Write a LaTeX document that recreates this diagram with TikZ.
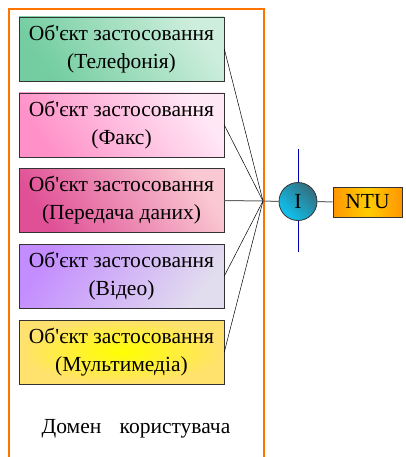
\documentclass[tikz,border=0pt]{standalone}
\usepackage{fontspec}
\setmainfont{Liberation Serif}[Ligatures=TeXOff]
\begin{document}
\begin{tikzpicture}[x=1pt,y=-1pt,
  objbox/.style={draw=black!80, line width=0.6pt, minimum width=205pt, minimum height=64pt,
    align=center, inner sep=0pt, font=\fontsize{21.5}{28}\selectfont},
  link/.style={line width=0.5pt, black},
  glink/.style={line width=1pt, black!60}]
\useasboundingbox (0,0) rectangle (406,457);
\draw[orange!90!red, line width=2pt] (9,457) -- (9,9) -- (264,9) -- (264,457);
\node[objbox, left color={rgb,255:red,115;green,205;blue,160}, right color={rgb,255:red,205;green,238;blue,220}, shading angle=125] (b1) at (121.5,49) {Об'єкт застосовання\\(Телефонія)};
\node[objbox, left color={rgb,255:red,255;green,145;blue,200}, right color={rgb,255:red,255;green,232;blue,246}, shading angle=125] (b2) at (121.5,125) {Об'єкт застосовання\\(Факс)};
\node[objbox, left color={rgb,255:red,224;green,80;blue,150}, right color={rgb,255:red,250;green,200;blue,210}, shading angle=125] (b3) at (121.5,200.5) {Об'єкт застосовання\\(Передача даних)};
\node[objbox, left color={rgb,255:red,195;green,140;blue,255}, right color={rgb,255:red,225;green,220;blue,238}, shading angle=55] (b4) at (121.5,276) {Об'єкт застосовання\\(Відео)};
\node[objbox, inner color=yellow, outer color={rgb,255:red,255;green,225;blue,110}] (b5) at (121.5,352) {Об'єкт застосовання\\(Мультимедіа)};
\node[font=\fontsize{21.5}{26}\selectfont, anchor=base] (dom) at (136,433) {Домен\hspace{0.6em} користувача};
\coordinate (hub) at (263,201);
\draw[link] (b1.east) -- (hub);
\draw[link] (b2.east) -- (hub);
\draw[glink] (b3.east) -- (hub);
\draw[link] (b4.east) -- (hub);
\draw[link] (b5.east) -- (hub);
\coordinate (vt) at (298,149);
\coordinate (vb) at (298,252);
\draw[blue!70!black, line width=0.7pt] (vt) -- (vb);
\node[circle, draw=black!80, line width=0.8pt, minimum size=38pt, inner sep=0pt,
  left color={rgb,255:red,15;green,195;blue,240}, right color={rgb,255:red,50;green,110;blue,125}, shading angle=135,
  font=\fontsize{21.5}{26}\selectfont] (ic) at (298,201.5) {I};
\node[draw=black!80, line width=0.8pt, minimum width=69pt, minimum height=30pt, inner sep=0pt,
  left color={rgb,255:red,255;green,150;blue,0}, right color={rgb,255:red,255;green,150;blue,0}, middle color={rgb,255:red,255;green,205;blue,0},
  font=\fontsize{21.5}{26}\selectfont] (ntu) at (367.5,202) {NTU};
\draw[glink] (hub) -- (ic.west);
\draw[glink] (ic.east) -- (ntu.west);
\end{tikzpicture}
\end{document}
